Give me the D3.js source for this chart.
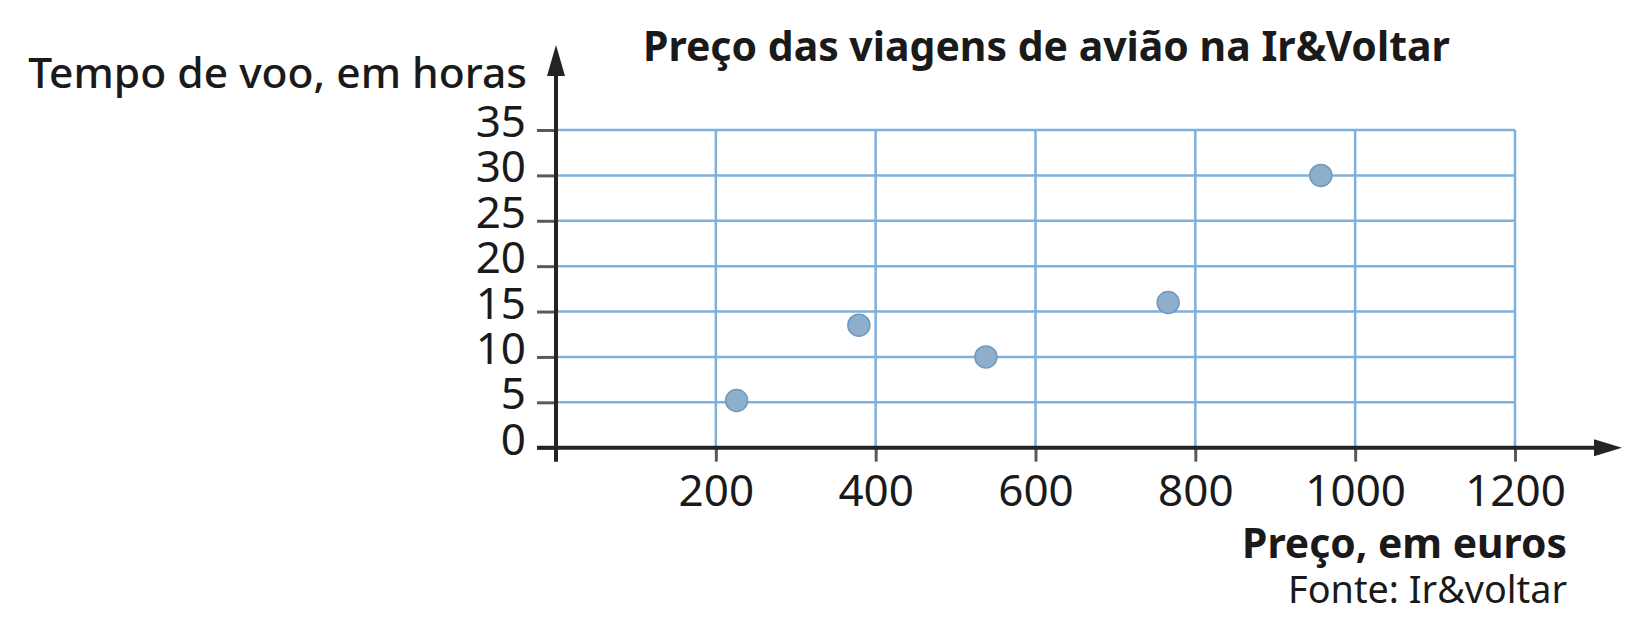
<!DOCTYPE html>
<html lang="pt">
<head>
  <meta charset="UTF-8" />
  <title>Preço das viagens de avião na Ir&amp;Voltar</title>
  <style>
    html, body {
      margin: 0;
      padding: 0;
      background: #fff;
    }
    svg {
      display: block;
      font-family: "Noto Sans", "Open Sans", sans-serif;
    }
    .tick text {
      font-size: 44px;
      fill: #1a1a1a;
    }
    .tick line {
      stroke: #5a5a5a;
      stroke-width: 3px;
    }
    .grid line {
      stroke: #7db0dd;
      stroke-width: 2.5px;
    }
  </style>
</head>
<body>
  <svg width="1638" height="618"></svg>
  <script src="https://d3js.org/d3.v7.min.js"></script>
  <script>
    // data
    const prices = [226, 379, 538, 766, 957];
    const hours = [5.2, 13.5, 10, 16, 30];
    const xTicks = [200, 400, 600, 800, 1000, 1200];
    const yTicks = [0, 5, 10, 15, 20, 25, 30, 35];

    const svg = d3.select("svg");

    const x = d3.scaleLinear().domain([0, 1200]).range([556, 1515]);
    const y = d3.scaleLinear().domain([0, 35]).range([447.7, 130]);

    // grid
    const grid = svg.append("g").attr("class", "grid");
    grid.selectAll(".h")
      .data(yTicks.filter(d => d > 0))
      .join("line")
      .attr("x1", x(0)).attr("x2", x(1200))
      .attr("y1", d => y(d)).attr("y2", d => y(d));
    grid.selectAll(".v")
      .data(xTicks)
      .join("line")
      .attr("x1", d => x(d)).attr("x2", d => x(d))
      .attr("y1", y(0)).attr("y2", y(35));

    // ticks + labels via d3 axes, domain paths removed
    const yAxis = svg.append("g")
      .attr("transform", `translate(${x(0)},0)`)
      .call(d3.axisLeft(y).tickValues(yTicks).tickSize(19).tickPadding(11).tickFormat(d3.format("d")));
    yAxis.select(".domain").remove();
    yAxis.selectAll("text").attr("dy", "0.15em");

    const xAxis = svg.append("g")
      .attr("transform", `translate(0,${y(0)})`)
      .call(d3.axisBottom(x).tickValues(xTicks).tickSize(14).tickPadding(13).tickFormat(d3.format("d")));
    xAxis.select(".domain").remove();

    // let the page font apply to the tick labels
    svg.selectAll("g").attr("font-family", null).attr("font-size", null);

    // main axes with arrows
    const axisColor = "#242424";
    svg.append("line")
      .attr("x1", x(0)).attr("x2", x(0))
      .attr("y1", y(0) + 14).attr("y2", 72)
      .attr("stroke", axisColor).attr("stroke-width", 4);
    svg.append("path")
      .attr("d", `M${x(0)},45 L${x(0) - 9},76 L${x(0) + 9},76 Z`)
      .attr("fill", axisColor);

    svg.append("line")
      .attr("x1", x(0) - 19).attr("x2", 1598)
      .attr("y1", y(0)).attr("y2", y(0))
      .attr("stroke", axisColor).attr("stroke-width", 4);
    svg.append("path")
      .attr("d", `M1622,${y(0)} L1594,${y(0) - 8.5} L1594,${y(0) + 8.5} Z`)
      .attr("fill", axisColor);

    // points
    svg.append("g")
      .selectAll("circle")
      .data(prices.map((p, i) => [p, hours[i]]))
      .join("circle")
      .attr("cx", d => x(d[0]))
      .attr("cy", d => y(d[1]))
      .attr("r", 11)
      .attr("fill", "#8dafcc")
      .attr("stroke", "#7299bc")
      .attr("stroke-width", 1.5);

    // texts, font size tuned so each one spans the measured width
    function label(txt, xPos, yPos, anchor, weight, size, width) {
      const t = svg.append("text")
        .attr("x", xPos).attr("y", yPos)
        .attr("text-anchor", anchor)
        .attr("font-weight", weight)
        .attr("font-size", size)
        .attr("fill", "#1a1a1a")
        .text(txt);
      const len = t.node().getComputedTextLength();
      t.attr("font-size", size * width / len);
      return t;
    }

    label("Preço das viagens de avião na Ir&Voltar", 643, 61, "start", 700, 38, 807);
    label("Tempo de voo, em horas", 527, 88, "end", 500, 42, 499);
    label("Preço, em euros", 1567, 558, "end", 700, 42, 325);
    label("Fonte: Ir&voltar", 1567, 603, "end", 400, 38, 279);
  </script>
</body>
</html>
